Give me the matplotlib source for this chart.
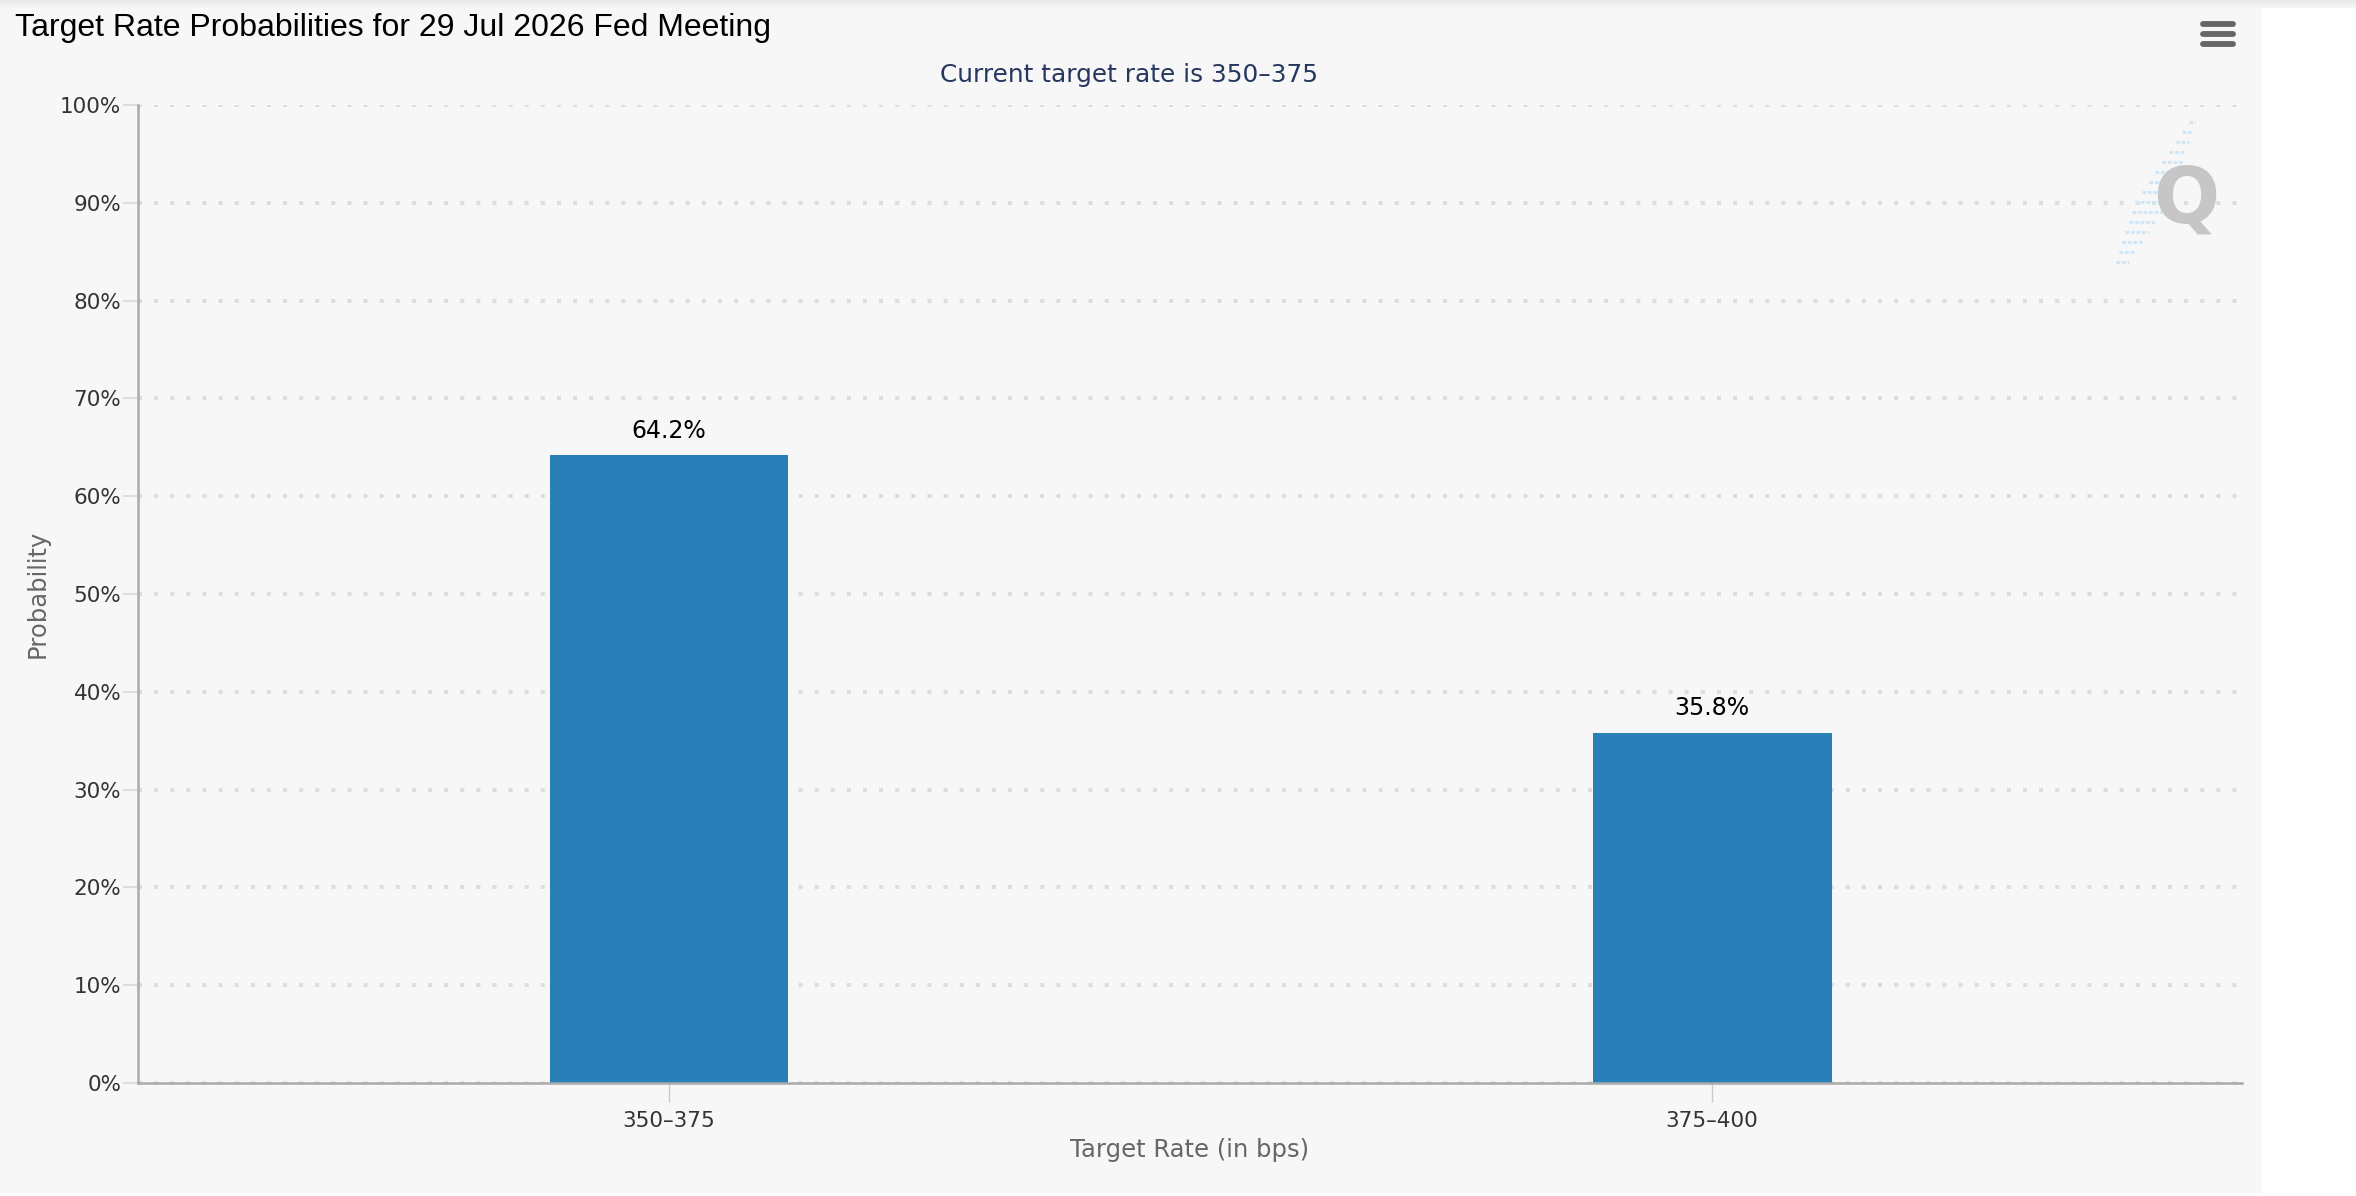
import matplotlib
matplotlib.use("Agg")
import matplotlib.pyplot as plt
import matplotlib.patches as patches
from matplotlib.lines import Line2D
import numpy as np

W, H = 2356, 1196
DPI = 100

categories = ["350\u2013375", "375\u2013400"]
probabilities = [64.2, 35.8]
y_ticks = [0, 10, 20, 30, 40, 50, 60, 70, 80, 90, 100]

title = "Target Rate Probabilities for 29 Jul 2026 Fed Meeting"
subtitle = "Current target rate is 350\u2013375"
x_title = "Target Rate (in bps)"
y_title = "Probability"

bar_color = "#2980b9"
panel_color = "#f7f7f7"


def fx(px):
    return px / W


def fy(py):
    # pixel y measured from the top
    return 1 - py / H


fig = plt.figure(figsize=(W / DPI, H / DPI), dpi=DPI, facecolor="white")

# chart panel with a faint shadow on top
fig.patches.append(patches.Rectangle((0, fy(1193)), fx(2262), fy(8) - fy(1193),
                                     transform=fig.transFigure, facecolor=panel_color,
                                     edgecolor="none", zorder=-2))
for i, c in enumerate(["#e9e9e9", "#eeeeee", "#f2f2f2", "#f5f5f5"]):
    fig.patches.append(patches.Rectangle((0, fy(2 * i + 2)), 1, 2 / H,
                                         transform=fig.transFigure, facecolor=c,
                                         edgecolor="none", zorder=-2))

left, right, top, bottom = 138, 2242, 105, 1083
ax = fig.add_axes([fx(left), fy(bottom), fx(right - left), fy(top) - fy(bottom)])
ax.set_zorder(1)
ax.set_facecolor(panel_color)

x = np.arange(len(categories))
ax.bar(x, probabilities, width=0.229, color=bar_color, zorder=3)
for xi, p in zip(x, probabilities):
    ax.annotate(f"{p:.1f}%", (xi, p), xytext=(0, 9), textcoords="offset points",
                ha="center", va="bottom", fontsize=17, color="black", zorder=4)

ax.set_xlim(-0.509, len(categories) - 0.492)
ax.set_ylim(0, 100)
ax.set_yticks(y_ticks)
ax.set_yticklabels([f"{t}%" for t in y_ticks])
ax.set_xticks(x)
ax.set_xticklabels(categories)

# dotted grid
for t in y_ticks:
    ax.axhline(t, color="#dddddd", lw=2.9, ls=(0, (1, 3)), zorder=1,
               dash_capstyle="butt")

for side in ["top", "right"]:
    ax.spines[side].set_visible(False)
for side in ["left", "bottom"]:
    ax.spines[side].set_color("#aaaaaa")
    ax.spines[side].set_linewidth(1.8)
    ax.spines[side].set_zorder(5)

ax.tick_params(axis="y", length=11, width=1.5, color="#dddddd", pad=1,
               labelsize=15.5, labelcolor="#333333")
ax.tick_params(axis="x", length=14, width=1, color="#cccccc", pad=6,
               labelsize=15.5, labelcolor="#333333")

fig.text(fx(1190), fy(1150), x_title, ha="center", va="center", fontsize=17.5,
         color="#666666")
fig.text(fx(38), fy(594), y_title, ha="center", va="center", rotation=90,
         fontsize=17.5, color="#666666")

fig.text(fx(15), fy(28), title, ha="left", va="center", fontsize=23,
         family="Liberation Sans", color="black")
fig.text(fx(1129), fy(75), subtitle, ha="center", va="center", fontsize=17.8,
         color="#26375f")

# menu icon
for yy in [24, 34, 44]:
    fig.lines.append(Line2D([fx(2203), fx(2233)], [fy(yy), fy(yy)],
                            transform=fig.transFigure, color="#666666", lw=4.2,
                            solid_capstyle="round"))

# watermark logo
for k in range(15):
    yy = 122 + k * 10
    xc = 2192 - (yy - 122) * 0.5
    half = 3 + 14 * (1 - abs(k - 8) / 8)
    fig.lines.append(Line2D([fx(xc - half), fx(xc + half)], [fy(yy), fy(yy)],
                            transform=fig.transFigure, color="#cfe6f7", lw=2.2,
                            ls=(0, (1.2, 0.6))))
fig.text(fx(2186), fy(200), "Q", ha="center", va="center", fontsize=56,
         fontweight="bold", color="#c6c6c6", family="DejaVu Sans")

fig.savefig("out.png", dpi=DPI, facecolor="white")
